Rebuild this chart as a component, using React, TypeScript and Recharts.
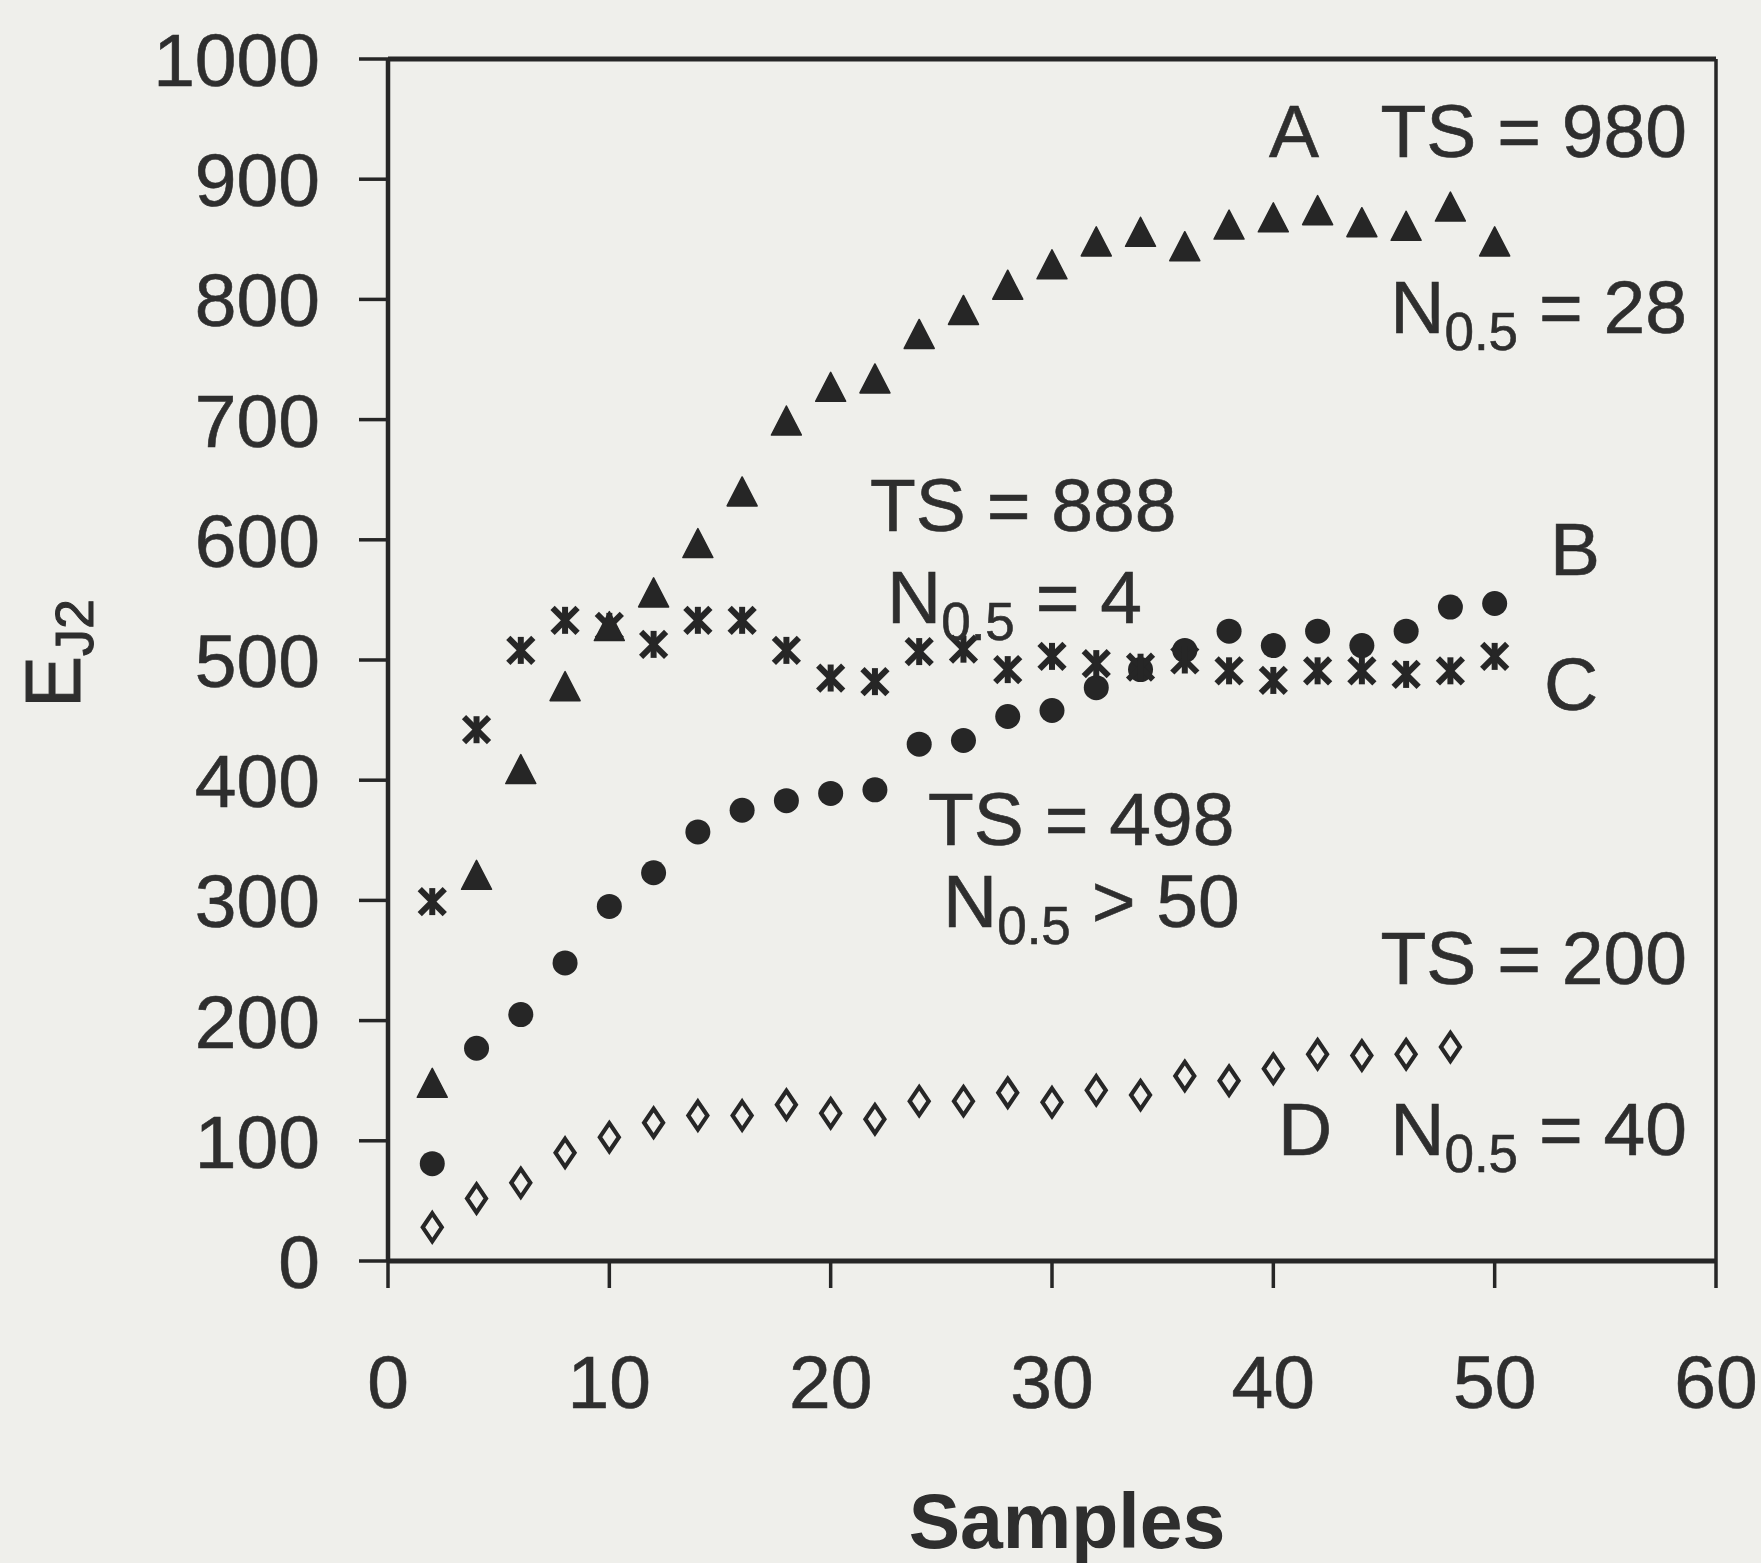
import React from 'react';
import { ScatterChart, Scatter, XAxis, YAxis, ReferenceLine } from 'recharts';

const samples = [2, 4, 6, 8, 10, 12, 14, 16, 18, 20, 22, 24, 26, 28, 30, 32, 34, 36, 38, 40, 42, 44, 46, 48, 50];
const seriesA = [147, 320, 408, 477, 527, 555, 596, 639, 698, 726, 733, 770, 790, 811, 828, 847, 855, 843, 861, 867, 873, 863, 860, 876, 847];
const seriesB = [81, 177, 205, 248, 295, 323, 357, 375, 383, 389, 392, 430, 433, 453, 458, 477, 492, 508, 524, 512, 524, 512, 524, 544, 547];
const seriesC = [299, 442, 508, 533, 528, 513, 533, 533, 508, 485, 482, 507, 509, 492, 503, 497, 494, 500, 491, 483, 491, 491, 488, 491, 503];
const seriesD = [28, 52, 65, 90, 103, 115, 121, 121, 130, 123, 118, 133, 133, 140, 132, 142, 138, 154, 150, 160, 172, 171, 172, 178];
const xTicks = [0, 10, 20, 30, 40, 50, 60];
const yTicks = [0, 100, 200, 300, 400, 500, 600, 700, 800, 900, 1000];

const W = 1761;
const H = 1563;
const INK = '#262626';
const TEXT = '#2e2e2e';
const BG = '#efefeb';
const FONT = '"Liberation Sans", Arial, Helvetica, sans-serif';
const FS = 75;
const SUB = 53;

const toPoints = (vals: number[]) => vals.map((v, i) => ({ x: samples[i], y: v }));
const dataA = toPoints(seriesA);
const dataB = toPoints(seriesB);
const dataC = toPoints(seriesC);
const dataD = toPoints(seriesD);

const Triangle = (p: any) => {
  const { cx, cy } = p;
  return <polygon points={`${cx},${cy - 16} ${cx - 15},${cy + 13} ${cx + 15},${cy + 13}`} fill={INK} stroke={INK} strokeWidth={1.5} strokeLinejoin="round" />;
};
const Dot = (p: any) => <circle cx={p.cx} cy={p.cy} r={12.5} fill={INK} />;
const Star = (p: any) => {
  const { cx, cy } = p;
  const s = 12.5;
  return (
    <g stroke={INK} strokeWidth={6} strokeLinecap="butt">
      <line x1={cx - s} y1={cy - s} x2={cx + s} y2={cy + s} />
      <line x1={cx + s} y1={cy - s} x2={cx - s} y2={cy + s} />
      <line x1={cx} y1={cy - s - 1} x2={cx} y2={cy + s + 1} />
    </g>
  );
};
const Diamond = (p: any) => {
  const { cx, cy } = p;
  return <polygon points={`${cx},${cy - 14} ${cx + 9.5},${cy} ${cx},${cy + 14} ${cx - 9.5},${cy}`} fill={BG} stroke={INK} strokeWidth={4.2} />;
};

const XTick = (p: any) => (
  <text x={p.x} y={p.y} dy="0.72em" textAnchor="middle" fontSize={FS} fontFamily={FONT} fill={TEXT} stroke={TEXT} strokeWidth={0.6}>
    {p.payload.value}
  </text>
);
const YTick = (p: any) => (
  <text x={p.x} y={p.y} dy="0.36em" textAnchor="end" fontSize={FS} fontFamily={FONT} fill={TEXT} stroke={TEXT} strokeWidth={0.6}>
    {p.payload.value}
  </text>
);

const Sub = ({ x, y, anchor, pre, sub, post }: any) => (
  <text x={x} y={y} textAnchor={anchor} fontSize={FS} fontFamily={FONT} fill={TEXT} stroke={TEXT} strokeWidth={0.6} style={{ whiteSpace: 'pre' }}>
    {pre}
    <tspan fontSize={SUB} dy={17}>{sub}</tspan>
    <tspan dy={-17}>{post}</tspan>
  </text>
);

const T = ({ x, y, anchor = 'start', children }: any) => (
  <text x={x} y={y} textAnchor={anchor} fontSize={FS} fontFamily={FONT} fill={TEXT} stroke={TEXT} strokeWidth={0.6} style={{ whiteSpace: 'pre' }}>
    {children}
  </text>
);

export default function App() {
  return (
    <div style={{ position: 'absolute', left: 0, top: 0, width: W, height: H, background: BG }}>
      <ScatterChart width={W} height={H} margin={{ top: 59, right: 45, bottom: 0, left: 0 }}>
        <XAxis
          type="number"
          dataKey="x"
          domain={[0, 60]}
          ticks={xTicks}
          interval={0}
          height={302}
          tickSize={27}
          tickMargin={66}
          tick={<XTick />}
          axisLine={{ stroke: INK, strokeWidth: 5 }}
          tickLine={{ stroke: INK, strokeWidth: 3.5 }}
          allowDataOverflow
        />
        <YAxis
          type="number"
          dataKey="y"
          domain={[0, 1000]}
          ticks={yTicks}
          interval={0}
          width={388}
          tickSize={29}
          tickMargin={39}
          tick={<YTick />}
          axisLine={{ stroke: INK, strokeWidth: 4.5 }}
          tickLine={{ stroke: INK, strokeWidth: 3.5 }}
          allowDataOverflow
        />
        <ReferenceLine y={1000} stroke={INK} strokeWidth={5} />
        <ReferenceLine x={60} stroke={INK} strokeWidth={3.5} />
        <Scatter data={dataD} shape={(p: any) => <Diamond {...p} />} isAnimationActive={false} />
        <Scatter data={dataB} shape={(p: any) => <Dot {...p} />} isAnimationActive={false} />
        <Scatter data={dataC} shape={(p: any) => <Star {...p} />} isAnimationActive={false} />
        <Scatter data={dataA} shape={(p: any) => <Triangle {...p} />} isAnimationActive={false} />
      </ScatterChart>
      <svg width={W} height={H} style={{ position: 'absolute', left: 0, top: 0, pointerEvents: 'none' }}>
        <T x={1269} y={157}>A</T>
        <T x={1687} y={157} anchor="end">TS = 980</T>
        <Sub x={1687} y={333} anchor="end" pre="N" sub="0.5" post=" = 28" />
        <T x={870} y={531}>TS = 888</T>
        <Sub x={887} y={623} anchor="start" pre="N" sub="0.5" post=" = 4" />
        <T x={1550} y={575}>B</T>
        <T x={1544} y={710}>C</T>
        <T x={928} y={845}>TS = 498</T>
        <Sub x={943} y={927} anchor="start" pre="N" sub="0.5" post=" > 50" />
        <T x={1687} y={984} anchor="end">TS = 200</T>
        <T x={1278} y={1155}>D</T>
        <Sub x={1687} y={1155} anchor="end" pre="N" sub="0.5" post=" = 40" />
        <text x={1067} y={1548} textAnchor="middle" fontSize={77} fontWeight="bold" fontFamily={FONT} fill={TEXT}>
          Samples
        </text>
        <text x={80} y={708} transform="rotate(-90 80 708)" fontSize={78} fontFamily={FONT} fill={TEXT} stroke={TEXT} strokeWidth={1}>
          E<tspan fontSize={54} dy={13}>J2</tspan>
        </text>
      </svg>
    </div>
  );
}
